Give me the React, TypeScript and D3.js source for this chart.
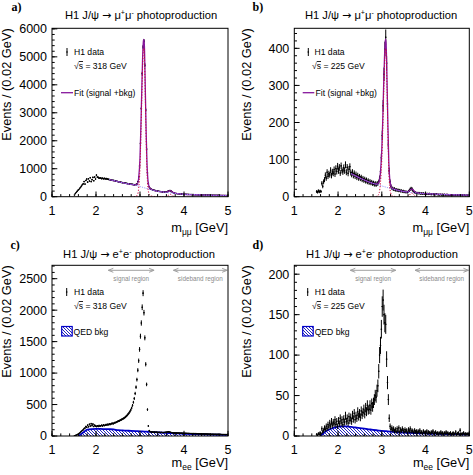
import React from "react";
import * as d3 from "d3";

const SANS = "'Liberation Sans', Arial, Helvetica, sans-serif";
const SERIF = "'Liberation Serif', 'Times New Roman', serif";

// ---- binning / axes ----
const binStart = 1.5;
const binWidth = 0.02;
const massDomain = [1, 5];
const xTicks = [1, 2, 3, 4, 5];
const xMinorStep = 0.2;

// ---- H1 data, events per 0.02 GeV bin, 1.50 .. 5.00 GeV ----
const dataMuMu318 = [
  60, 110, 150, 190, 230, 260, 300, 340, 380, 430,
  460, 540, 450, 580, 630, 520, 640, 560, 680, 540,
  610, 690, 570, 700, 630, 770, 700, 690, 660, 670,
  668, 645, 662, 640, 655, 636, 650, 628, 632, 615,
  612, 598, 600, 585, 582, 575, 568, 558, 552, 543,
  537, 528, 522, 512, 507, 500, 497, 488, 486, 476,
  472, 463, 460, 450, 449, 441, 439, 430, 429, 430,
  430, 455, 540, 700, 1100, 1900, 3150, 4400, 5350, 5560,
  4700, 3100, 1700, 850, 480, 350, 300, 275, 258, 245,
  235, 226, 218, 210, 203, 198, 192, 187, 182, 177,
  172, 168, 165, 163, 165, 172, 190, 208, 220, 216,
  198, 172, 150, 134, 124, 117, 112, 108, 105, 102,
  100, 97, 94, 92, 90, 90, 85, 87, 81, 83,
  79, 78, 77, 75, 74, 73, 72, 70, 69, 68,
  67, 66, 65, 64, 63, 62, 61, 60, 59, 58,
  57, 56, 56, 55, 54, 53, 52, 52, 51, 50,
  49, 49, 48, 47, 47, 46, 45, 45, 44, 43,
  43, 42, 41, 41, 40,
];

const dataMuMu225 = [
  14, 12, 16, 13, 15, 14, 36, 28, 40, 46,
  58, 50, 66, 55, 62, 59, 71, 57, 67, 63,
  73, 61, 76, 68, 82, 70, 79, 64, 83, 71,
  67, 78, 70, 86, 66, 79, 63, 74, 81, 65,
  60, 66, 57, 63, 55, 60, 52, 57, 50, 54,
  49, 52, 46, 49, 44, 47, 42, 45, 40, 43,
  38, 41, 37, 39, 35, 37, 33, 36, 32, 35,
  36, 40, 50, 68, 105, 165, 245, 330, 398, 430,
  360, 250, 140, 70, 40, 28, 23, 22, 20, 21,
  18, 19, 17, 18, 16, 17, 15, 16, 14, 15,
  13, 14, 12, 13, 12, 14, 17, 20, 22, 21,
  17, 14, 12, 11, 10, 10, 9, 10, 9, 8,
  9, 8, 9, 8, 7, 8, 7, 8, 7, 8,
  7, 6, 7, 7, 6, 7, 6, 7, 6, 6,
  5, 6, 6, 5, 6, 5, 6, 5, 5, 6,
  5, 5, 4, 5, 5, 4, 5, 4, 5, 4,
  5, 4, 4, 5, 4, 4, 5, 3, 4, 4,
  3, 4, 3, 4, 3,
];

const dataEE318 = [
  4, 8, 14, 20, 28, 38, 48, 62, 75, 88,
  100, 118, 128, 150, 138, 172, 148, 185, 158, 195,
  165, 188, 152, 172, 158, 150, 162, 152, 166, 156,
  162, 171, 160, 176, 166, 172, 181, 174, 186, 180,
  191, 185, 196, 201, 194, 206, 212, 215, 222, 230,
  236, 241, 251, 256, 266, 272, 281, 291, 302, 316,
  330, 348, 366, 388, 414, 446, 486, 536, 596, 676,
  776, 896, 1046, 1196, 1376, 1586, 1796, 2046, 2270, 1960,
  1560, 1140, 820, 420, 160, 85, 70, 66, 62, 64,
  60, 62, 58, 61, 57, 59, 56, 58, 55, 57,
  54, 56, 55, 58, 60, 62, 64, 66, 63, 60,
  56, 52, 50, 48, 49, 47, 48, 46, 47, 45,
  46, 44, 45, 43, 44, 42, 43, 41, 42, 40,
  41, 39, 40, 38, 39, 37, 38, 36, 37, 35,
  36, 34, 35, 33, 34, 33, 32, 33, 31, 32,
  31, 30, 31, 29, 30, 29, 28, 29, 28, 27,
  28, 27, 26, 27, 26, 25, 26, 25, 24, 25,
  24, 23, 24, 23, 22,
];

const dataEE225 = [
  2, 1, 3, 2, 4, 3, 9, 5, 7, 10,
  8, 12, 9, 14, 11, 16, 12, 18, 13, 17,
  15, 20, 14, 18, 12, 19, 15, 22, 16, 20,
  14, 21, 17, 25, 18, 22, 16, 24, 19, 23,
  18, 26, 21, 28, 20, 25, 22, 30, 24, 28,
  23, 31, 26, 29, 33, 27, 35, 30, 38, 32,
  33, 38, 32, 40, 36, 41, 45, 50, 48, 56,
  62, 80, 100, 112, 132, 160, 168, 150, 140, 138,
  95, 66, 45, 22, 12, 8, 10, 7, 9, 6,
  8, 5, 9, 6, 10, 5, 8, 6, 9, 7,
  5, 8, 6, 7, 4, 8, 6, 9, 5, 7,
  6, 4, 7, 5, 6, 4, 6, 5, 7, 4,
  5, 3, 6, 4, 5, 4, 6, 3, 5, 4,
  3, 5, 4, 6, 3, 4, 5, 3, 4, 2,
  4, 3, 5, 3, 4, 2, 4, 3, 5, 3,
  4, 2, 3, 4, 2, 3, 4, 2, 3, 5,
  2, 3, 4, 2, 7, 3, 2, 3, 4, 2,
  3, 2, 3, 2, 3,
];

// ---- fit curves (mu mu channel) ----
const fitX = [
  2.3, 2.4, 2.5, 2.6, 2.7, 2.8, 2.86, 2.9, 2.94, 2.97,
  3.0, 3.02, 3.04, 3.06, 3.08, 3.09, 3.1, 3.12, 3.14, 3.16,
  3.18, 3.2, 3.23, 3.27, 3.32, 3.4, 3.5, 3.58, 3.62, 3.66,
  3.69, 3.72, 3.76, 3.82, 3.9, 4.0, 4.2, 4.4, 4.6, 4.8, 5.0,
];
const fitTotal318 = [
  612, 578, 538, 500, 468, 440, 427, 420, 450, 676,
  1402, 2503, 3794, 5005, 5596, 5622, 5397, 3898, 2299, 1150,
  600, 400, 300, 258, 230, 199, 173, 160, 172, 205,
  218, 188, 145, 118, 102, 88, 74, 62, 53, 46, 40,
];
const fitBkg318 = [
  612, 578, 538, 500, 468, 440, 425, 408, 390, 376,
  362, 353, 344, 335, 326, 322, 317, 308, 299, 290,
  280, 270, 255, 238, 220, 195, 170, 155, 148, 141,
  136, 131, 124, 114, 102, 88, 74, 62, 53, 46, 40,
];
const fitSig318 = [
  0, 0, 0, 0, 0, 0, 2, 12, 60, 300,
  1040, 2150, 3450, 4670, 5270, 5300, 5080, 3590, 2000, 860,
  320, 130, 45, 20, 10, 4, 3, 5, 24, 64,
  82, 57, 21, 4, 0, 0, 0, 0, 0, 0, 0,
];
const fitTotal225 = [
  62, 56, 50, 45, 40, 36, 34.3, 34.5, 41, 68,
  129, 200, 290, 370, 420, 425, 410, 310, 190, 95,
  50, 34, 24, 21, 18.8, 16.2, 14, 13.2, 15, 19.4,
  21, 17.6, 12.5, 10, 8.8, 8.1, 7, 6, 5.2, 4.7, 4.3,
];
const fitBkg225 = [
  62, 56, 50, 45, 40, 36, 34, 32.5, 31, 30,
  29, 28.3, 27.6, 26.9, 26.2, 25.9, 25.5, 24.8, 24.1, 23.4,
  22.7, 22, 21, 19.8, 18.3, 16.2, 14, 12.6, 12, 11.4,
  11, 10.6, 10.1, 9.5, 8.8, 8.1, 7, 6, 5.2, 4.7, 4.3,
];
const fitSig225 = [
  0, 0, 0, 0, 0, 0, 0.3, 2, 10, 38,
  100, 172, 262, 343, 394, 399, 385, 285, 166, 72,
  27, 12, 3, 1.2, 0.5, 0, 0, 0.6, 3, 8,
  10, 7, 2.4, 0.5, 0, 0, 0, 0, 0, 0, 0,
];

// ---- QED background (e e channel) ----
const qedX = [
  1.6, 1.7, 1.8, 1.9, 2.0, 2.1, 2.2, 2.3, 2.4, 2.5,
  2.6, 2.7, 2.8, 2.9, 3.0, 3.1, 3.2, 3.3, 3.4, 3.5,
  3.6, 3.7, 3.8, 3.9, 4.0, 4.2, 4.4, 4.6, 4.8, 5.0,
];
const qed318 = [
  0, 50, 100, 110, 112, 112, 110, 108, 104, 92,
  88, 85, 82, 78, 74, 70, 66, 62, 58, 54,
  50, 46, 42, 39, 36, 31, 27, 23, 20, 17,
];
const qed225 = [
  0, 5, 8, 10, 11.5, 12, 11.8, 11.2, 10.5, 9.8,
  9, 8.3, 7.6, 7, 6.4, 5.9, 5.4, 5, 4.6, 4.3,
  4.0, 3.8, 3.6, 3.4, 3.2, 2.9, 2.6, 2.4, 2.2, 2.0,
];

const signalRegion = [2.28, 3.32];
const sidebandRegion = [3.76, 4.98];

const yTicksA = [0, 1000, 2000, 3000, 4000, 5000, 6000];
const yTicksB = [0, 100, 200, 300, 400];
const yTicksC = [0, 500, 1000, 1500, 2000, 2500];
const yTicksD = [0, 50, 100, 150, 200];

const C_TOTAL = "#86179c";
const C_BKG = "#8f8fff";
const C_SIG = "#d0003c";
const C_QED = "#0000c8";

function Panel(p: any) {
  const { id, fr, yMax, yTicks, yMinor, data, fit, qed, lepton, leptonSub, tag, tagPos, titleX, titleY, yLabX, xLabY, sqrtS, leg } = p;
  const x = d3.scaleLinear().domain(massDomain).range([fr.left, fr.right]);
  const y = d3.scaleLinear().domain([0, yMax]).range([fr.bottom, fr.top]);
  const xMinor = d3.range(massDomain[0], massDomain[1] + 1e-6, xMinorStep);
  const yMinorT = d3.range(0, yMax, yMinor);

  const bins = data.map((v: number, i: number) => ({
    lo: binStart + i * binWidth,
    hi: binStart + (i + 1) * binWidth,
    m: binStart + (i + 0.5) * binWidth,
    v,
  }));

  const line = d3
    .line<[number, number]>()
    .x((d) => x(d[0]))
    .y((d) => y(d[1]))
    .curve(d3.curveMonotoneX);
  const sigLine = d3
    .line<[number, number]>()
    .defined((d) => d[1] > 0)
    .x((d) => x(d[0]))
    .y((d) => y(d[1]))
    .curve(d3.curveMonotoneX);

  const area = d3
    .area<[number, number]>()
    .x((d) => x(d[0]))
    .y0(y(0))
    .y1((d) => y(d[1]))
    .curve(d3.curveMonotoneX);

  const qedPts: [number, number][] = qed ? qedX.map((m, i) => [m, qed[i]]) : [];
  const clipId = `clip-${id}`;

  const arrow = (r: number[], label: string) => {
    const xa = x(r[0]);
    const xb = x(r[1]);
    const ya = fr.top + 5;
    return (
      <g stroke="#a0a0a0" strokeWidth={1} fill="none">
        <line x1={xa} x2={xb} y1={ya} y2={ya} />
        <path d={`M${xa + 5},${ya - 2} L${xa},${ya} L${xa + 5},${ya + 2}`} />
        <path d={`M${xb - 5},${ya - 2} L${xb},${ya} L${xb - 5},${ya + 2}`} />
        <text x={(xa + xb) / 2} y={ya + 10.5} textAnchor="middle" fontFamily={SANS} fontSize={6.3} fill="#8a8a8a" stroke="none">
          {label}
        </text>
      </g>
    );
  };

  return (
    <g>
      <defs>
        <clipPath id={clipId}>
          <rect x={fr.left} y={fr.top} width={fr.right - fr.left} height={fr.bottom - fr.top} />
        </clipPath>
      </defs>
      {/* panel tag */}
      <text x={tagPos[0]} y={tagPos[1]} fontFamily={SERIF} fontWeight="bold" fontSize={12}>
        {tag}
      </text>
      {/* title */}
      <text x={titleX} y={titleY} textAnchor="middle" fontFamily={SANS} fontSize={11.2}>
        {"H1 J/ψ "}
        <tspan fontFamily="'DejaVu Sans', sans-serif" fontSize={11}>→</tspan>
        {" " + lepton}
        <tspan dy={-4} fontSize={7}>+</tspan>
        <tspan dy={4}>{lepton}</tspan>
        <tspan dy={-4} fontSize={7}>-</tspan>
        <tspan dy={4}>{" photoproduction"}</tspan>
      </text>

      <g clipPath={`url(#${clipId})`}>
        {qed && (
          <g>
            <path d={area(qedPts) || ""} fill="url(#qedHatch)" stroke="none" />
            <path d={line(qedPts) || ""} fill="none" stroke={C_QED} strokeWidth={1.8} />
          </g>
        )}
        {/* data */}
        <g stroke="#000" strokeWidth={1}>
          {bins
            .filter((b: any) => b.v > 0)
            .map((b: any, i: number) => {
              const e = Math.sqrt(b.v);
              return (
                <g key={i}>
                  <line x1={x(b.m)} x2={x(b.m)} y1={y(Math.max(0, b.v - e))} y2={y(b.v + e)} />
                  <line x1={x(b.lo)} x2={x(b.hi)} y1={y(b.v)} y2={y(b.v)} />
                </g>
              );
            })}
        </g>
        <g fill="#000">
          {bins
            .filter((b: any) => b.v > 0)
            .map((b: any, i: number) => (
              <circle key={i} cx={x(b.m)} cy={y(b.v)} r={0.8} />
            ))}
        </g>
        {fit && (
          <g fill="none">
            <path d={line(fitX.map((m, i) => [m, fit.total[i]]) as any) || ""} stroke={C_TOTAL} strokeWidth={1.3} />
            <path d={line(fitX.map((m, i) => [m, fit.bkg[i]]) as any) || ""} stroke={C_BKG} strokeWidth={1} strokeDasharray="1.2,1.2" />
            <path d={sigLine(fitX.map((m, i) => [m, fit.sig[i]]) as any) || ""} stroke={C_SIG} strokeWidth={1} strokeDasharray="1.2,1.6" />
          </g>
        )}
      </g>

      {qed && arrow(signalRegion, "signal region")}
      {qed && arrow(sidebandRegion, "sideband region")}

      {/* legend */}
      <g fontFamily={SANS} fontSize={8.6}>
        <line x1={leg.mx} x2={leg.mx} y1={leg.my - 4} y2={leg.my + 4} stroke="#000" strokeWidth={1} />
        <circle cx={leg.mx} cy={leg.my} r={0.8} />
        <text x={leg.tx} y={leg.my + 3}>H1 data</text>
        <text x={leg.sx} y={leg.my + 17}>
          √<tspan style={{ textDecoration: "overline" }}>s</tspan>
          {" = " + sqrtS + " GeV"}
        </text>
        {fit && (
          <g>
            <line x1={leg.fx0} x2={leg.fx1} y1={leg.fy} y2={leg.fy} stroke={C_TOTAL} strokeWidth={1.3} />
            <text x={leg.ftx} y={leg.fy + 3}>Fit (signal +bkg)</text>
          </g>
        )}
        {qed && (
          <g>
            <rect x={leg.bx} y={leg.by} width={10.5} height={9.5} fill="url(#qedHatch)" stroke={C_QED} strokeWidth={1.2} />
            <text x={leg.btx} y={leg.by + 8}>QED bkg</text>
          </g>
        )}
      </g>

      {/* axes ticks */}
      <g stroke="#000" strokeWidth={1}>
        {xMinor.map((m, i) => (
          <line key={"xm" + i} x1={x(m)} x2={x(m)} y1={fr.bottom} y2={fr.bottom - 2.6} />
        ))}
        {xTicks.map((m) => (
          <line key={"xM" + m} x1={x(m)} x2={x(m)} y1={fr.bottom} y2={fr.bottom - 5.2} />
        ))}
        {yMinorT.map((v, i) => (
          <line key={"ym" + i} x1={fr.left} x2={fr.left + 2.7} y1={y(v)} y2={y(v)} />
        ))}
        {yTicks.map((v: number) => (
          <line key={"yM" + v} x1={fr.left} x2={fr.left + 5.3} y1={y(v)} y2={y(v)} />
        ))}
        <rect x={fr.left} y={fr.top} width={fr.right - fr.left} height={fr.bottom - fr.top} fill="none" />
      </g>
      <g fontFamily={SANS} fontSize={12.5}>
        {xTicks.map((m) => (
          <text key={"xl" + m} x={x(m)} y={fr.bottom + 18} textAnchor="middle">
            {m}
          </text>
        ))}
        {yTicks.map((v: number) => (
          <text key={"yl" + v} x={fr.left - 5} y={y(v) + 4.4} textAnchor="end">
            {v}
          </text>
        ))}
        <text transform={`translate(${yLabX},${fr.top}) rotate(-90)`} textAnchor="end" fontSize={12.8}>
          Events / (0.02 GeV)
        </text>
        <text x={fr.right} y={xLabY} textAnchor="end" fontSize={12.8}>
          m<tspan dy={3} fontSize={8.5}>{leptonSub}</tspan>
          <tspan dy={-3}>{" [GeV]"}</tspan>
        </text>
      </g>
    </g>
  );
}

export default function App() {
  const frA = { left: 52, right: 228, top: 28.3, bottom: 196.7 };
  const frB = { left: 294.3, right: 469.3, top: 28.3, bottom: 196.7 };
  const frC = { left: 52, right: 228, top: 265.3, bottom: 436 };
  const frD = { left: 294.3, right: 469.3, top: 265.3, bottom: 436 };
  return (
    <svg width={473} height={475} style={{ position: "absolute", left: 0, top: 0, background: "#fff" }}>
      <defs>
        <pattern id="qedHatch" patternUnits="userSpaceOnUse" width={3} height={3}>
          <rect width={3} height={3} fill="#fff" />
          <path d="M0,0 L3,3 M-1,2 L1,4 M2,-1 L4,1" stroke="#1818b8" strokeWidth={0.95} />
        </pattern>
      </defs>
      <rect width={473} height={475} fill="#fff" />
      <Panel
        id="a"
        fr={frA}
        yMax={6020}
        yTicks={yTicksA}
        yMinor={200}
        data={dataMuMu318}
        fit={{ total: fitTotal318, bkg: fitBkg318, sig: fitSig318 }}
        lepton="μ"
        leptonSub="μμ"
        tag="a)"
        tagPos={[11.5, 11]}
        titleX={141}
        titleY={19}
        yLabX={11}
        xLabY={232}
        sqrtS="318"
        leg={{ mx: 67, my: 52, tx: 74, sx: 74, fx0: 61, fx1: 73, fy: 92.7, ftx: 74 }}
      />
      <Panel
        id="b"
        fr={frB}
        yMax={454}
        yTicks={yTicksB}
        yMinor={20}
        data={dataMuMu225}
        fit={{ total: fitTotal225, bkg: fitBkg225, sig: fitSig225 }}
        lepton="μ"
        leptonSub="μμ"
        tag="b)"
        tagPos={[252.5, 11]}
        titleX={381}
        titleY={19}
        yLabX={251}
        xLabY={232}
        sqrtS="225"
        leg={{ mx: 308.3, my: 52, tx: 314.5, sx: 312, fx0: 302.7, fx1: 314.3, fy: 92.7, ftx: 315.5 }}
      />
      <Panel
        id="c"
        fr={frC}
        yMax={2713}
        yTicks={yTicksC}
        yMinor={100}
        data={dataEE318}
        qed={qed318}
        lepton="e"
        leptonSub="ee"
        tag="c)"
        tagPos={[10.5, 249]}
        titleX={139}
        titleY={258}
        yLabX={11}
        xLabY={467}
        sqrtS="318"
        leg={{ mx: 66.7, my: 292, tx: 74, sx: 74, bx: 61.7, by: 326.5, btx: 73.5 }}
      />
      <Panel
        id="d"
        fr={frD}
        yMax={211}
        yTicks={yTicksD}
        yMinor={10}
        data={dataEE225}
        qed={qed225}
        lepton="e"
        leptonSub="ee"
        tag="d)"
        tagPos={[252.5, 248.5]}
        titleX={382}
        titleY={258}
        yLabX={251}
        xLabY={467}
        sqrtS="225"
        leg={{ mx: 307.7, my: 292, tx: 314.7, sx: 312, bx: 302.7, by: 326.5, btx: 314.7 }}
      />
    </svg>
  );
}
